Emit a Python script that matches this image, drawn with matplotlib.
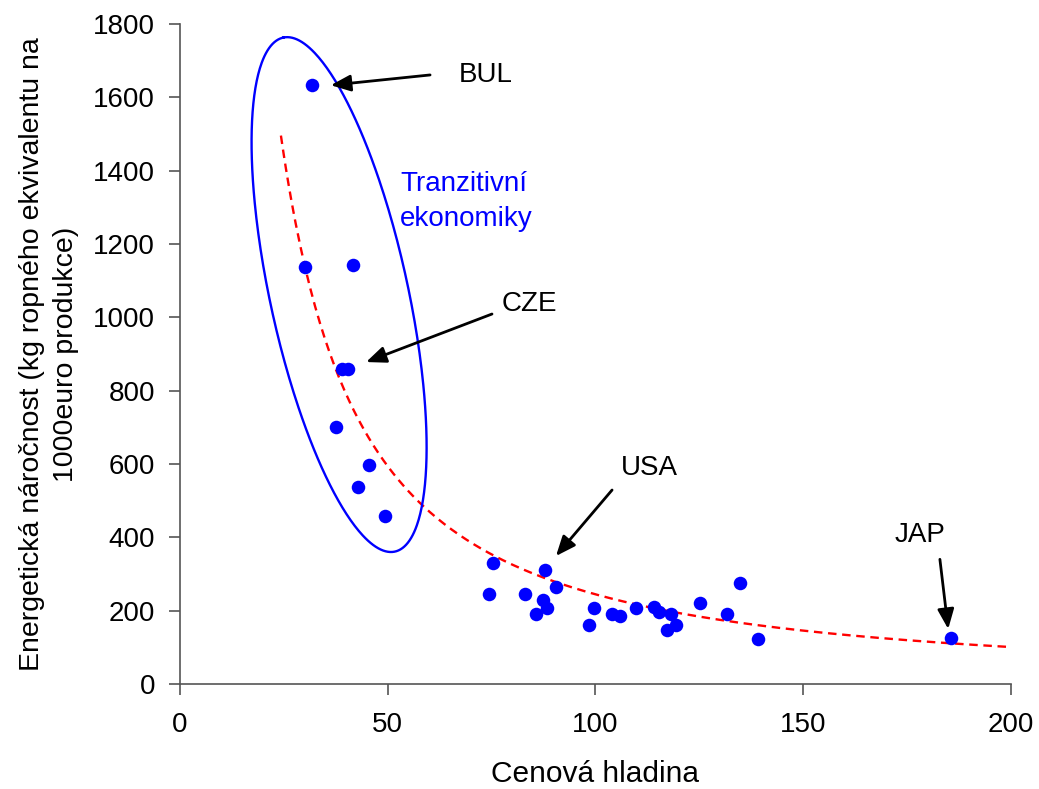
import numpy as np
import matplotlib
matplotlib.use("Agg")
import matplotlib.pyplot as plt

# data
cenova_hladina = [31.8, 30.1, 41.6, 39.0, 40.4, 37.5, 45.5, 42.8, 49.3,
                  75.4, 74.4, 83.0, 87.8, 90.5, 87.4, 88.4, 85.8, 98.5,
                  99.6, 103.9, 106.0, 109.7, 114.0, 115.2, 118.3, 119.4,
                  117.2, 125.2, 131.7, 134.9, 139.2, 185.6]
narocnost = [1633, 1137, 1143, 859, 859, 701, 597, 537, 458,
             331, 245, 245, 312, 264, 229, 207, 191, 161,
             208, 191, 185, 208, 209, 196, 192, 160,
             148, 221, 191, 275, 124, 125]

# power trend line y = a * x^b
trend_a = 88800
trend_b = -1.28
trend_od, trend_do = 24.3, 200

popisky = ["BUL", "CZE", "USA", "JAP"]
popisky_text = [(67.0, 1660), (77.5, 1035), (106, 590), (172, 405)]
popisky_sipka = [(60.2, 1661), (75.1, 1009), (104.0, 529), (182.9, 340)]
popisky_bod = [(36.3, 1633), (44.8, 878), (90.5, 349), (184.9, 150)]

plt.rcParams['font.family'] = ['Liberation Sans', 'DejaVu Sans']

fig = plt.figure(figsize=(10.39, 7.89), dpi=100)
ax = fig.add_axes([0.1732, 0.1331, 0.7998, 0.8365])

ax.scatter(cenova_hladina, narocnost, s=95, color='#0000ff', zorder=3, linewidths=0)

xt = np.linspace(trend_od, trend_do, 300)
ax.plot(xt, trend_a * xt ** trend_b, color='#ff0000', ls=(0, (3.6, 2.4)), lw=1.7, zorder=2)

# ellipse round the transition economies (sizes in pixels, converted to data)
px_x = 831 / 200.0
px_y = 660 / 1800.0
stred = (38.3, 1062)
a_ax, b_ax, theta = 263, 69, np.radians(12.25)
t = np.linspace(0, 2 * np.pi, 400)
ux, uy = -np.sin(theta), np.cos(theta)
vx, vy = np.cos(theta), np.sin(theta)
ex = stred[0] + (a_ax * np.cos(t) * ux + b_ax * np.sin(t) * vx) / px_x
ey = stred[1] + (a_ax * np.cos(t) * uy + b_ax * np.sin(t) * vy) / px_y
ax.plot(ex, ey, color='#0000ff', lw=1.7, zorder=2)

ax.text(53, 1317, "Tranzitivní\nekonomiky", color='#0000ff', fontsize=20,
        ha='left', va='center', linespacing=1.45)

for lab, pt, tail, head in zip(popisky, popisky_text, popisky_sipka, popisky_bod):
    ax.text(pt[0], pt[1], lab, fontsize=20, ha='left', va='center')
    ax.annotate("", xy=head, xytext=tail,
                arrowprops=dict(arrowstyle='-|>,head_length=0.6,head_width=0.25',
                                color='black', lw=2, mutation_scale=20,
                                shrinkA=0, shrinkB=0))

ax.set_xlim(0, 200)
ax.set_ylim(0, 1800)
ax.set_xticks(range(0, 201, 50))
ax.set_yticks(range(0, 1801, 200))
for s in ['top', 'right']:
    ax.spines[s].set_visible(False)
for s in ['left', 'bottom']:
    ax.spines[s].set_color('#555555')
    ax.spines[s].set_linewidth(1.2)
ax.tick_params(direction='out', length=8, width=1.2, color='#555555', labelsize=20)
ax.tick_params(axis='y', pad=10)
ax.tick_params(axis='x', pad=12)

ax.set_xlabel("Cenová hladina", fontsize=21.5, labelpad=16)
ax.set_ylabel("Energetická náročnost (kg ropného ekvivalentu na\n1000euro produkce)",
              fontsize=20.5, labelpad=10, linespacing=1.4)

fig.savefig("out.png", dpi=100)
